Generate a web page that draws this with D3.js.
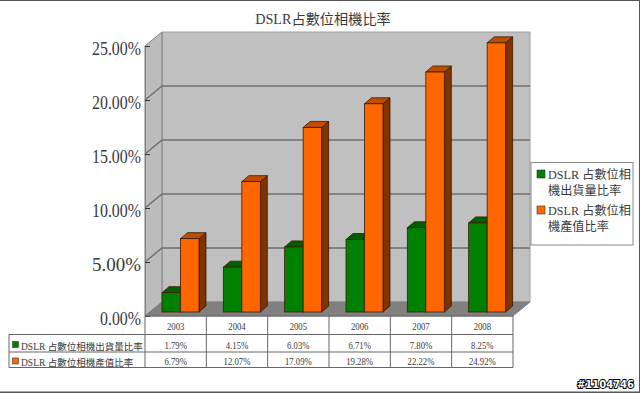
<!DOCTYPE html>
<html lang="en">

<head>
    <meta charset="UTF-8">
    <title>DSLR</title>
    <script src="https://d3js.org/d3.v7.min.js"></script>
    <style>
        body { margin: 0; background: #fff; }
        svg { display: block; }
        text { font-family: 'Liberation Serif', 'Noto Sans CJK TC', serif; fill: #3a3a3a; }
    </style>
</head>

<body>
    <script>
        const chartTitle = 'DSLR占數位相機比率';
        const years = ['2003', '2004', '2005', '2006', '2007', '2008'];
        const shipmentName = 'DSLR 占數位相機出貨量比率';
        const outputName = 'DSLR 占數位相機產值比率';
        const shipment = [1.79, 4.15, 6.03, 6.71, 7.80, 8.25];
        const output = [6.79, 12.07, 17.09, 19.28, 22.22, 24.92];
        const yTicks = [0, 5, 10, 15, 20, 25];
        const legendShipment = ['DSLR 占數位相', '機出貨量比率'];
        const legendOutput = ['DSLR 占數位相', '機產值比率'];

        const width = 640, height = 393;
        const svg = d3.select('body').append('svg').attr('width', width).attr('height', height);

        const x = d3.scaleBand().domain(years).range([145, 513]);
        const y = d3.scaleLinear().domain([0, 25]).range([316, 46]);
        const series = d3.scaleBand().domain([0, 1]).range([17, 54]);

        const wallDx = 17, wallDy = -14;   // depth of the plot box
        const barDx = 7, barDy = -6;       // depth of a bar
        const baseDy = -4;                 // bars stand a little back on the floor
        const [plotLeft, plotRight] = x.range();
        const [plotBottom, plotTop] = y.range();
        const poly = pts => 'M' + pts.map(p => p.join(',')).join('L') + 'Z';

        // Frame of the picture
        const frame = svg.append('g').attr('stroke', '#555').attr('fill', 'none');
        frame.append('path').attr('stroke-width', 2).attr('d', `M0,0H${width}`);
        frame.append('path').attr('stroke-width', 2).attr('d', `M${width},0V${height}`);
        frame.append('path').attr('stroke-width', 2).attr('d', `M0,${height - 0.5}H${width}`);

        svg.append('text')
            .attr('x', 323).attr('y', 24)
            .attr('text-anchor', 'middle')
            .attr('font-size', 14.2)
            .text(chartTitle);

        // Plot box: back wall, left wall, floor
        svg.append('path')
            .attr('fill', '#c0c0c0')
            .attr('stroke', '#a0a0a0')
            .attr('d', poly([[plotLeft + wallDx, plotTop + wallDy], [plotRight + wallDx, plotTop + wallDy],
                [plotRight + wallDx, plotBottom + wallDy], [plotLeft + wallDx, plotBottom + wallDy]]));
        svg.append('path')
            .attr('fill', '#bcbcbc')
            .attr('stroke', '#808080')
            .attr('d', poly([[plotLeft, plotTop], [plotLeft + wallDx, plotTop + wallDy],
                [plotLeft + wallDx, plotBottom + wallDy], [plotLeft, plotBottom]]));
        svg.append('path')
            .attr('fill', '#808080')
            .attr('stroke', '#808080')
            .attr('d', poly([[plotLeft, plotBottom], [plotLeft + wallDx, plotBottom + wallDy],
                [plotRight + wallDx, plotBottom + wallDy], [plotRight, plotBottom]]));

        // Gridlines go along the left wall and across the back wall
        svg.append('g')
            .selectAll('path')
            .data(yTicks.slice(1, -1))
            .enter()
            .append('path')
            .attr('fill', 'none')
            .attr('stroke', '#6e6e6e')
            .attr('stroke-width', 1.4)
            .attr('d', d => `M${plotLeft},${y(d)}L${plotLeft + wallDx},${y(d) + wallDy}H${plotRight + wallDx}`);

        // Ticks point inward, onto the left wall
        const yAxis = d3.axisLeft(y)
            .tickValues(yTicks)
            .tickFormat(d => d.toFixed(2) + '%')
            .tickSizeInner(-5)
            .tickSizeOuter(0)
            .tickPadding(4);
        const yAxisG = svg.append('g')
            .attr('transform', `translate(${plotLeft}, 0)`)
            .call(yAxis);
        yAxisG.attr('font-family', null);
        yAxisG.select('.domain').attr('stroke', '#808080');
        yAxisG.selectAll('.tick line').attr('stroke', '#333');
        yAxisG.selectAll('.tick text')
            .attr('font-size', 19)
            .attr('dy', 8)
            .attr('textLength', d => d === 0 ? 41 : 49)
            .attr('lengthAdjust', 'spacingAndGlyphs');

        // Bars
        function drawBars(values, index, front, topFace, side) {
            const g = svg.append('g').attr('stroke', '#3a1a00').attr('stroke-width', 0.8);
            const base = y(0) + baseDy;
            const barTop = d => y(d) + baseDy;
            const x0 = (d, i) => x(years[i]) + series(index);
            const x1 = (d, i) => x0(d, i) + series.bandwidth();

            g.selectAll('.side').data(values).enter().append('path')
                .attr('fill', side)
                .attr('d', (d, i) => poly([[x1(d, i), barTop(d)], [x1(d, i) + barDx, barTop(d) + barDy],
                    [x1(d, i) + barDx, base + barDy], [x1(d, i), base]]));
            g.selectAll('.top').data(values).enter().append('path')
                .attr('fill', topFace)
                .attr('d', (d, i) => poly([[x0(d, i), barTop(d)], [x0(d, i) + barDx, barTop(d) + barDy],
                    [x1(d, i) + barDx, barTop(d) + barDy], [x1(d, i), barTop(d)]]));
            g.selectAll('.front').data(values).enter().append('rect')
                .attr('fill', front)
                .attr('x', x0)
                .attr('y', barTop)
                .attr('width', series.bandwidth())
                .attr('height', d => base - barTop(d));
        }
        drawBars(shipment, 0, '#008000', '#006000', '#004000');
        drawBars(output, 1, '#ff6600', '#bf4d00', '#7f3300');

        // Data table under the plot
        const rowY = [316, 334.5, 352, 367.5];
        const table = svg.append('g').attr('stroke', '#666').attr('fill', 'none');
        table.append('path').attr('d', `M${plotLeft},${rowY[0]}H${plotRight}`);
        table.append('path').attr('d', `M9,${rowY[1]}H${plotRight}`);
        table.append('path').attr('d', `M9,${rowY[2]}H${plotRight}`);
        table.append('path').attr('d', `M9,${rowY[3]}H${plotRight}`);
        table.append('path').attr('d', `M9,${rowY[1]}V${rowY[3]}`);
        table.selectAll('.v').data(d3.range(years.length + 1)).enter().append('path')
            .attr('d', i => {
                const vx = i < years.length ? x(years[i]) : plotRight;
                return `M${vx},${rowY[0]}V${rowY[3]}`;
            });

        // Cell text in the reference is squeezed sideways
        const cell = (values, yPos, fmt) => svg.append('g')
            .selectAll('text')
            .data(values)
            .enter()
            .append('text')
            .attr('x', (d, i) => x(years[i]) + x.bandwidth() / 2)
            .attr('y', yPos)
            .attr('text-anchor', 'middle')
            .attr('font-size', 10)
            .text(fmt)
            .attr('lengthAdjust', 'spacingAndGlyphs')
            .attr('textLength', function () { return this.getComputedTextLength() * 0.87; });
        cell(years, 330, d => d);
        cell(shipment, 349, d => d.toFixed(2) + '%');
        cell(output, 365, d => d.toFixed(2) + '%');

        function rowHead(name, color, rowTop) {
            svg.append('rect').attr('x', 12.5).attr('y', rowTop + 7).attr('width', 6).attr('height', 6)
                .attr('fill', color).attr('stroke', '#333').attr('stroke-width', 0.6);
            svg.append('text').attr('x', 21).attr('y', rowTop + 15).attr('font-size', 9.5).text(name);
        }
        rowHead(shipmentName, '#008000', rowY[1]);
        rowHead(outputName, '#ff6600', rowY[2] - 1);

        // Legend
        const legend = svg.append('g');
        legend.append('rect')
            .attr('x', 531).attr('y', 162.5).attr('width', 102).attr('height', 82.5)
            .attr('fill', '#fff').attr('stroke', '#888');
        function legendItem(lines, color, yPos) {
            legend.append('rect').attr('x', 537).attr('y', yPos - 9).attr('width', 8).attr('height', 8)
                .attr('fill', color).attr('stroke', '#333').attr('stroke-width', 0.6);
            legend.selectAll(null).data(lines).enter().append('text')
                .attr('x', 548).attr('y', (d, i) => yPos + i * 16)
                .attr('font-size', 12.2)
                .text(d => d);
        }
        legendItem(legendShipment, '#008000', 179);
        legendItem(legendOutput, '#ff6600', 215);

        // Watermark
        svg.append('text')
            .attr('x', 634).attr('y', 388)
            .attr('text-anchor', 'end')
            .attr('font-size', 11)
            .attr('font-weight', 'bold')
            .style('font-family', "'DejaVu Sans'")
            .style('fill', '#fff')
            .style('paint-order', 'stroke')
            .attr('stroke', '#000')
            .attr('stroke-width', 2)
            .attr('textLength', 57)
            .attr('lengthAdjust', 'spacingAndGlyphs')
            .text('#1104746');
    </script>
</body>

</html>
